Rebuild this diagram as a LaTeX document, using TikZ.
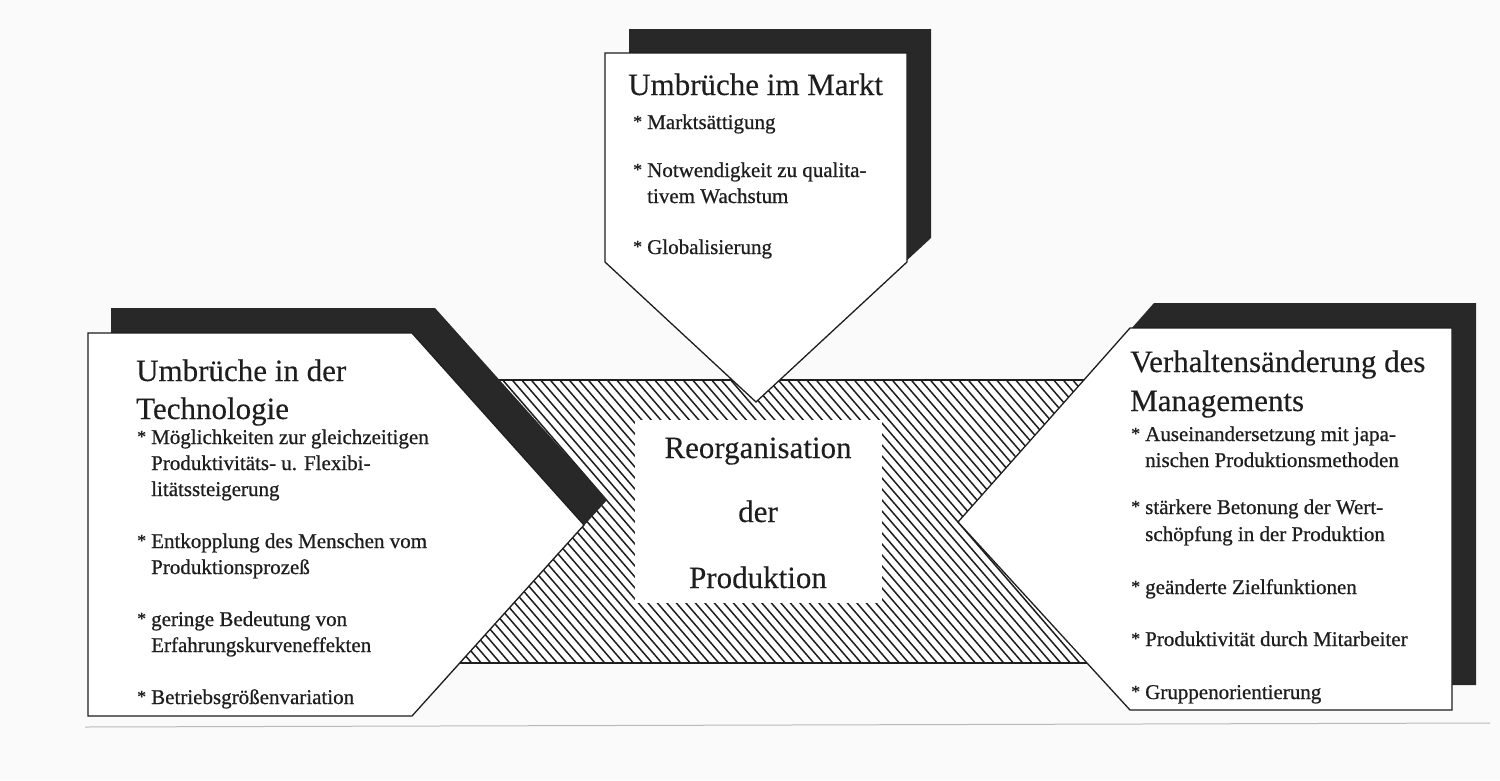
\documentclass[tikz,border=0pt]{standalone}
\usepackage{fontspec}
\setmainfont{Liberation Serif}
\newfontfamily\itmfont[FakeBold=0.7]{Liberation Serif}
\newfontfamily\ttlfont[FakeBold=0.2]{Liberation Serif}
\definecolor{ink}{RGB}{30,30,30}
\definecolor{shade}{RGB}{40,40,40}
\definecolor{paper}{RGB}{250,250,250}
\definecolor{rule}{RGB}{185,185,185}
\newcommand{\bstar}{\makebox[14pt][l]{\raisebox{1.5pt}{\scalebox{0.85}{*}}}}
\newcommand{\bgap}{\hspace*{14pt}}
\begin{document}
\begin{tikzpicture}[x=1pt,y=-1pt,
  hatchline/.style={line width=1.5pt, draw=ink},
  shadowfill/.style={fill=shade},
  whitebox/.style={fill=white, draw=ink, line width=1.3pt, line join=miter},
  ttl/.style={anchor=base west, inner sep=0pt, font=\ttlfont\fontsize{31}{37}\selectfont, text=ink},
  itm/.style={anchor=base west, inner sep=0pt, font=\itmfont\fontsize{21}{26}\selectfont, text=ink},
  ctr/.style={anchor=base, inner sep=0pt, font=\ttlfont\fontsize{31}{37}\selectfont, text=ink}]
\useasboundingbox (0,0) rectangle (1500,780);
\fill[paper] (0,0) rectangle (1500,780);
% faint scan rule at the bottom
\draw[rule, line width=1pt] (85,727) -- (1490,723);

% hatched band
\begin{scope}
  \clip (445,380) rectangle (1100,663);
  \fill[white] (445,380) rectangle (1100,663);
  \foreach \i in {0,...,105} \draw[hatchline] (140+9.5*\i,378) -- ++(248,287);
\end{scope}
\draw[ink, line width=1.4pt] (445,380) rectangle (1100,663);

% shadows
\fill[shadowfill] (629,29) -- (931,29) -- (931,238) -- (780,378) -- (629,238) -- cycle;
\fill[shadowfill] (111,308) -- (435,308) -- (607,500) -- (435,691) -- (111,691) -- cycle;
\fill[shadowfill] (1154,303) -- (1476,303) -- (1476,685) -- (1200,685) -- (1200,400) -- (1131,329) -- cycle;

% white boxes
\draw[whitebox] (605,53) -- (907,53) -- (907,262) -- (756,402) -- (605,262) -- cycle;
\draw[whitebox] (88,333) -- (412,333) -- (584,525) -- (412,716) -- (88,716) -- cycle;
\draw[whitebox] (1130,328) -- (1452,328) -- (1452,710) -- (1130,710) -- (958,522) -- cycle;

% centre
\fill[white] (635,420) rectangle (882,603);
\node[ctr] (c1) at (758,458) {Reorganisation};
\node[ctr] (c2) at (758,522) {der};
\node[ctr] (c3) at (758,588) {Produktion};

% top box text
\node[ttl] (m0) at (628,95) {Umbrüche im Markt};
\node[itm] (m1) at (633,129) {\bstar Marktsättigung};
\node[itm] (m2) at (633,177) {\bstar Notwendigkeit zu qualita-};
\node[itm] (m2b) at (633,203) {\bgap tivem Wachstum};
\node[itm] (m3) at (633,254) {\bstar Globalisierung};

% left box text
\node[ttl] (t0) at (136,381) {Umbrüche in der};
\node[ttl] (t0b) at (136,419) {Technologie};
\node[itm] (t1) at (137,444) {\bstar Möglichkeiten zur gleichzeitigen};
\node[itm] (t1b) at (137,470) {\bgap Produktivitäts- u. Flexibi-};
\node[itm] (t1c) at (137,496) {\bgap litätssteigerung};
\node[itm] (t2) at (137,548) {\bstar Entkopplung des Menschen vom};
\node[itm] (t2b) at (137,574) {\bgap Produktionsprozeß};
\node[itm] (t3) at (137,626) {\bstar geringe Bedeutung von};
\node[itm] (t3b) at (137,652) {\bgap Erfahrungskurveneffekten};
\node[itm] (t4) at (137,704) {\bstar Betriebsgrößenvariation};

% right box text
\node[ttl] (v0) at (1130,372) {Verhaltensänderung des};
\node[ttl] (v0b) at (1130,411) {Managements};
\node[itm] (v1) at (1131,441) {\bstar Auseinandersetzung mit japa-};
\node[itm] (v1b) at (1131,467) {\bgap nischen Produktionsmethoden};
\node[itm] (v2) at (1131,514) {\bstar stärkere Betonung der Wert-};
\node[itm] (v2b) at (1131,541) {\bgap schöpfung in der Produktion};
\node[itm] (v3) at (1131,594) {\bstar geänderte Zielfunktionen};
\node[itm] (v4) at (1131,646) {\bstar Produktivität durch Mitarbeiter};
\node[itm] (v5) at (1131,699) {\bstar Gruppenorientierung};
\end{tikzpicture}
\end{document}
